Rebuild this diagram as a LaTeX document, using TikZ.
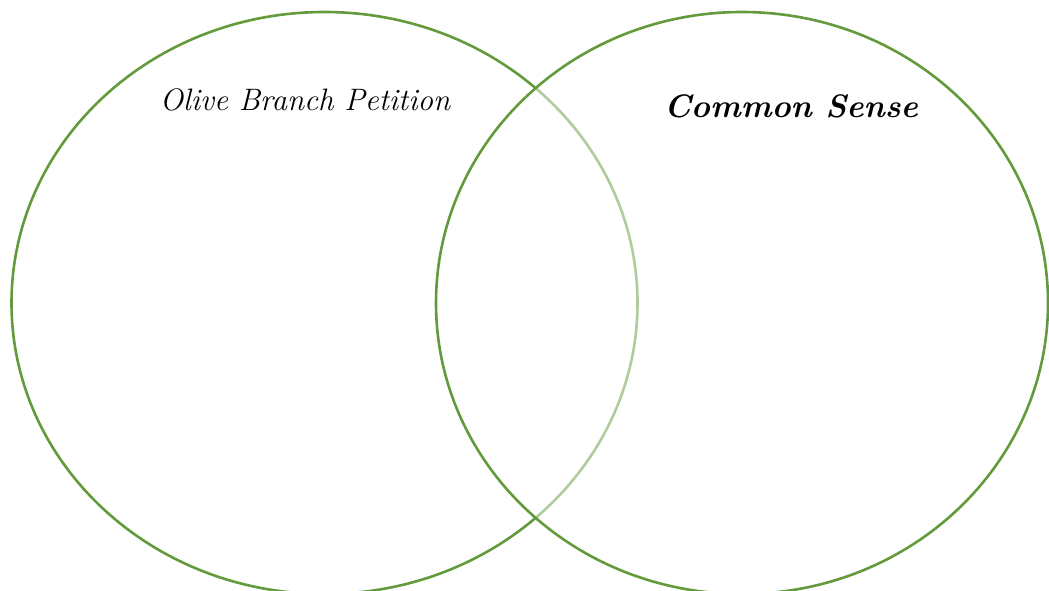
\documentclass[tikz,border=0pt]{standalone}
\usetikzlibrary{shapes.geometric}
\definecolor{venngreen}{RGB}{98,154,60}
\begin{document}
\begin{tikzpicture}[x=1pt,y=-1pt,
  vennset/.style={ellipse, draw=venngreen, line width=2.6pt, inner sep=0pt, outer sep=0pt},
  lbl/.style={inner sep=0pt, text=black}]
\useasboundingbox (0,0) rectangle (1049,590);
\node[vennset, minimum width=626pt, minimum height=582pt] (left) at (324.5,303) {};
\node[vennset, fill=white, fill opacity=0.5, draw opacity=1, minimum width=612pt, minimum height=582pt] (right) at (742,303) {};
\node[lbl, font=\fontsize{31}{37}\selectfont\itshape] (olive) at (305,100) {Olive Branch Petition};
\node[lbl, font=\fontsize{32.5}{38}\selectfont\bfseries\itshape] (common) at (791,106) {Common Sense};
\end{tikzpicture}
\end{document}
